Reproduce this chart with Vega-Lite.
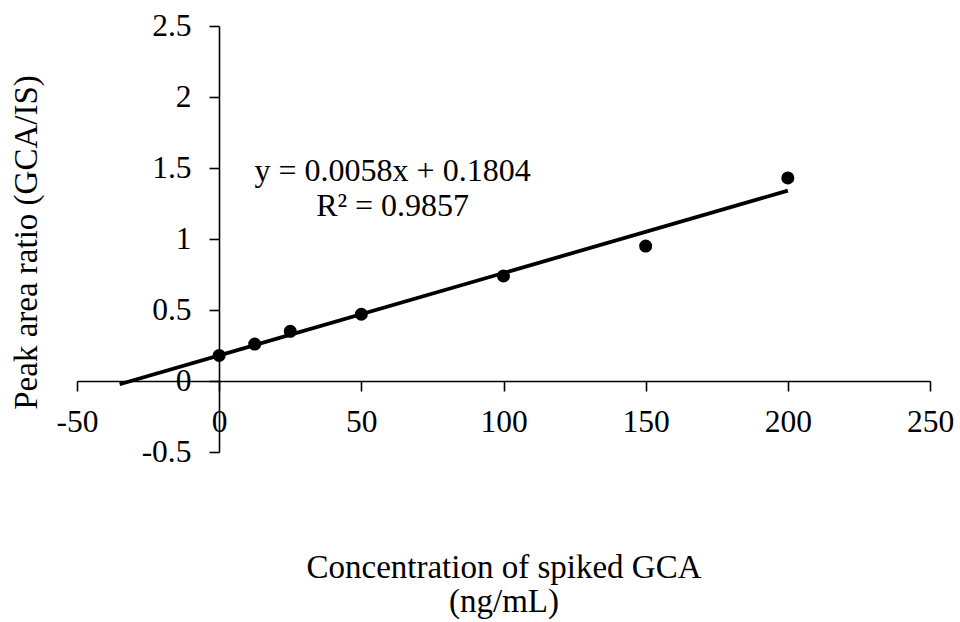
{
  "$schema": "https://vega.github.io/schema/vega-lite/v6.json",
  "width": 853,
  "height": 426,
  "autosize": {"type": "none"},
  "padding": {"left": 77, "top": 26, "right": 30, "bottom": 170},
  "background": "white",
  "config": {
    "view": {"stroke": null},
    "font": "Liberation Serif",
    "axis": {
      "grid": false,
      "domainColor": "black",
      "domainWidth": 1.6,
      "tickColor": "black",
      "tickWidth": 1.6,
      "tickSize": 10,
      "labelFont": "Liberation Serif",
      "labelFontSize": 31.5,
      "labelColor": "black",
      "labelOverlap": false,
      "labelFlush": false,
      "labelBound": false,
      "titleFont": "Liberation Serif",
      "titleFontSize": 33,
      "titleFontWeight": "normal",
      "titleColor": "black"
    }
  },
  "datasets": {
    "calibration": [
      {"conc": 0, "ratio": 0.18},
      {"conc": 12.5, "ratio": 0.26},
      {"conc": 25, "ratio": 0.35},
      {"conc": 50, "ratio": 0.47},
      {"conc": 100, "ratio": 0.74},
      {"conc": 150, "ratio": 0.95},
      {"conc": 200, "ratio": 1.43}
    ],
    "trend": [
      {"conc": -35, "ratio": -0.0226},
      {"conc": 200, "ratio": 1.3404}
    ],
    "equation": [
      {"label": "y = 0.0058x + 0.1804\nR² = 0.9857"}
    ]
  },
  "layer": [
    {
      "data": {"name": "trend"},
      "mark": {"type": "line", "color": "black", "strokeWidth": 3.8, "strokeCap": "butt"},
      "encoding": {
        "x": {
          "field": "conc",
          "type": "quantitative",
          "scale": {"domain": [-50, 250], "nice": false, "zero": false},
          "axis": {
            "values": [-50, 0, 50, 100, 150, 200, 250],
            "labelExpr": "datum.value + ''",
            "offset": -71,
            "labelPadding": 15,
            "title": ["Concentration of spiked GCA", "(ng/mL)"],
            "titleX": 426.5,
            "titleY": 186,
            "titleAlign": "center",
            "titleBaseline": "middle",
            "titleLineHeight": 34
          }
        },
        "y": {
          "field": "ratio",
          "type": "quantitative",
          "scale": {"domain": [-0.5, 2.5], "nice": false, "zero": false},
          "axis": {
            "values": [-0.5, 0, 0.5, 1, 1.5, 2, 2.5],
            "labelExpr": "datum.value + ''",
            "offset": -142,
            "labelPadding": 18,
            "title": "Peak area ratio (GCA/IS)",
            "titleX": -193,
            "titleY": 216,
            "titleAngle": -90,
            "titleAlign": "center",
            "titleBaseline": "middle"
          }
        }
      }
    },
    {
      "data": {"name": "calibration"},
      "mark": {"type": "circle", "color": "black", "opacity": 1, "size": 170},
      "encoding": {
        "x": {"field": "conc", "type": "quantitative"},
        "y": {"field": "ratio", "type": "quantitative"}
      }
    },
    {
      "data": {"name": "equation"},
      "mark": {
        "type": "text",
        "font": "Liberation Serif",
        "fontSize": 32,
        "color": "black",
        "align": "center",
        "baseline": "middle",
        "lineBreak": "\n",
        "lineHeight": 35
      },
      "encoding": {
        "x": {"datum": 61, "type": "quantitative"},
        "y": {"datum": 1.48, "type": "quantitative"},
        "text": {"field": "label", "type": "nominal"}
      }
    }
  ]
}
